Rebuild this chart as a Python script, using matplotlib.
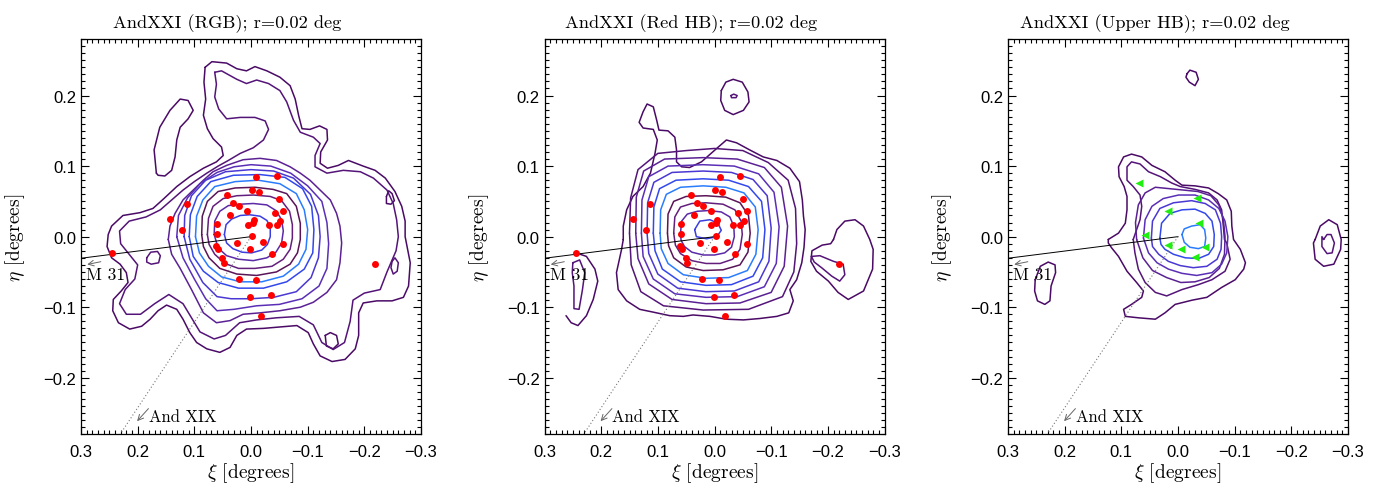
import numpy as np
import matplotlib.pyplot as plt
from matplotlib.ticker import MultipleLocator, FuncFormatter

plt.rcParams['mathtext.fontset'] = 'cm'
plt.rcParams['axes.unicode_minus'] = True

# ---------------------------------------------------------------
# data (xi, eta in degrees)
# ---------------------------------------------------------------

# spectroscopic members, same stars shown in the RGB and Red HB panels
mem_xi = [-0.009, -0.045, 0.042, -0.001, -0.014, -0.050, 0.113, 0.031, 0.021, 0.007,
          0.037, -0.042, -0.057, 0.060, -0.005, -0.003, 0.006, -0.032, -0.045, -0.052,
          0.121, 0.060, -0.002, 0.025, -0.022, 0.061, 0.058, -0.057, 0.001, -0.037,
          0.051, 0.048, 0.022, -0.008, 0.001, -0.035, -0.018, 0.143, 0.245, -0.219]
mem_eta = [0.084, 0.086, 0.059, 0.066, 0.063, 0.054, 0.046, 0.047, 0.044, 0.036,
           0.030, 0.033, 0.036, 0.018, 0.023, 0.019, 0.016, 0.016, 0.017, 0.022,
           0.010, 0.004, 0.001, -0.009, -0.008, -0.013, -0.018, -0.011, -0.017, -0.024,
           -0.030, -0.037, -0.060, -0.061, -0.085, -0.082, -0.113, 0.025, -0.023, -0.039]

# upper HB stars
uhb_xi = [0.068, -0.033, 0.018, -0.037, 0.058, 0.017, -0.006, -0.047, -0.030]
uhb_eta = [0.076, 0.055, 0.037, 0.019, 0.003, -0.012, -0.018, -0.015, -0.029]

# contour colours, outermost level first
level_colors = ['#4a0a66', '#541478', '#5b2194', '#5a2fb6', '#4a38d2', '#3348ec',
                '#2a7cff', '#5a1458', '#641f7c', '#5b2aa6', '#3a3ee0']

# ---- RGB panel contours ----
rgb_l1_main = [(0.081, 0.240), (0.069, 0.248), (0.043, 0.246), (0.025, 0.238), (0.008, 0.235),
               (-0.007, 0.241), (-0.028, 0.235), (-0.051, 0.226), (-0.069, 0.214), (-0.078, 0.195),
               (-0.084, 0.172), (-0.090, 0.153), (-0.104, 0.152), (-0.121, 0.157), (-0.134, 0.152),
               (-0.135, 0.137), (-0.123, 0.120), (-0.122, 0.104), (-0.135, 0.097), (-0.154, 0.101),
               (-0.172, 0.108), (-0.198, 0.100), (-0.219, 0.094), (-0.237, 0.083), (-0.254, 0.064),
               (-0.266, 0.043), (-0.272, 0.022), (-0.272, 0.000), (-0.281, -0.037), (-0.278, -0.070),
               (-0.269, -0.086), (-0.249, -0.091), (-0.222, -0.091), (-0.198, -0.094), (-0.190, -0.108),
               (-0.190, -0.140), (-0.184, -0.159), (-0.166, -0.174), (-0.143, -0.177), (-0.122, -0.169),
               (-0.110, -0.152), (-0.101, -0.136), (-0.081, -0.126), (-0.051, -0.128), (-0.022, -0.130),
               (0.008, -0.131), (0.025, -0.140), (0.037, -0.157), (0.055, -0.164), (0.078, -0.159),
               (0.096, -0.150), (0.108, -0.136), (0.120, -0.117), (0.131, -0.103), (0.149, -0.097),
               (0.164, -0.105), (0.178, -0.117), (0.193, -0.127), (0.214, -0.131), (0.234, -0.122),
               (0.244, -0.105), (0.243, -0.089), (0.229, -0.077), (0.217, -0.065), (0.220, -0.051),
               (0.231, -0.039), (0.246, -0.030), (0.254, -0.014), (0.252, 0.003), (0.246, 0.015),
               (0.226, 0.030), (0.196, 0.034), (0.173, 0.040), (0.155, 0.053), (0.131, 0.071),
               (0.108, 0.085), (0.084, 0.097), (0.061, 0.106), (0.049, 0.115), (0.052, 0.127),
               (0.067, 0.139), (0.077, 0.153), (0.084, 0.172), (0.080, 0.195), (0.083, 0.219)]
rgb_l1_blob = [(0.167, 0.090), (0.171, 0.123), (0.161, 0.155), (0.143, 0.179), (0.125, 0.195),
               (0.111, 0.193), (0.102, 0.179), (0.111, 0.167), (0.125, 0.155), (0.131, 0.137),
               (0.134, 0.113), (0.140, 0.094), (0.152, 0.086), (0.164, 0.087)]
rgb_l1_right = [(-0.239, 0.057), (-0.243, 0.065), (-0.249, 0.061), (-0.253, 0.051),
                (-0.247, 0.046), (-0.239, 0.047)]
rgb_l1_low = [(-0.131, -0.140), (-0.140, -0.136), (-0.151, -0.140), (-0.154, -0.152),
              (-0.145, -0.159), (-0.133, -0.155)]
rgb_l2_right = [(-0.249, -0.035), (-0.254, -0.030), (-0.260, -0.037), (-0.258, -0.049),
                (-0.251, -0.053), (-0.247, -0.044)]
rgb_l2_left = [(0.184, -0.030), (0.177, -0.022), (0.165, -0.021), (0.160, -0.027),
               (0.163, -0.037), (0.176, -0.039), (0.184, -0.036)]
rgb_l2 = [(0.064, 0.233), (0.052, 0.235), (0.025, 0.223), (0.008, 0.217), (-0.010, 0.222),
          (-0.031, 0.217), (-0.051, 0.207), (-0.063, 0.191), (-0.075, 0.165), (-0.087, 0.148),
          (-0.110, 0.141), (-0.122, 0.132), (-0.113, 0.115), (-0.113, 0.099), (-0.134, 0.090),
          (-0.163, 0.094), (-0.193, 0.092), (-0.216, 0.083), (-0.240, 0.066), (-0.251, 0.047),
          (-0.257, 0.024), (-0.260, 0.000), (-0.256, -0.020), (-0.240, -0.050), (-0.228, -0.075),
          (-0.200, -0.080), (-0.180, -0.090), (-0.175, -0.120), (-0.165, -0.150), (-0.145, -0.160),
          (-0.125, -0.150), (-0.110, -0.125), (-0.085, -0.113), (-0.045, -0.115), (-0.010, -0.118),
          (0.020, -0.122), (0.045, -0.140), (0.065, -0.145), (0.090, -0.135), (0.105, -0.115),
          (0.120, -0.095), (0.145, -0.082), (0.170, -0.095), (0.195, -0.110), (0.220, -0.110),
          (0.232, -0.095), (0.222, -0.075), (0.205, -0.060), (0.200, -0.040), (0.215, -0.025),
          (0.230, -0.010), (0.232, 0.008), (0.215, 0.022), (0.185, 0.028), (0.160, 0.038),
          (0.140, 0.052), (0.120, 0.066), (0.100, 0.078), (0.078, 0.090), (0.058, 0.100),
          (0.040, 0.108), (0.019, 0.118), (-0.004, 0.126), (-0.022, 0.137), (-0.031, 0.152),
          (-0.025, 0.164), (-0.007, 0.169), (0.019, 0.169), (0.043, 0.167), (0.057, 0.181),
          (0.064, 0.198), (0.061, 0.216)]
rgb_l3 = [(0.146, -0.004), (0.143, 0.015), (0.134, 0.033), (0.120, 0.052), (0.102, 0.066),
          (0.084, 0.080), (0.067, 0.092), (0.043, 0.101), (0.014, 0.109), (-0.016, 0.111),
          (-0.045, 0.108), (-0.069, 0.099), (-0.087, 0.090), (-0.104, 0.080), (-0.122, 0.066),
          (-0.140, 0.052), (-0.151, 0.033), (-0.157, 0.015), (-0.160, -0.009), (-0.157, -0.037),
          (-0.151, -0.061), (-0.134, -0.079), (-0.110, -0.093), (-0.087, -0.100), (-0.051, -0.105),
          (-0.016, -0.108), (0.014, -0.110), (0.037, -0.119), (0.061, -0.122), (0.084, -0.108),
          (0.105, -0.075), (0.125, -0.045), (0.140, -0.025)]
rgb_l4 = [(0.131, 0.000), (0.128, 0.030), (0.112, 0.055), (0.090, 0.075), (0.060, 0.091),
          (0.030, 0.099), (0.000, 0.102), (-0.035, 0.100), (-0.070, 0.090), (-0.100, 0.072),
          (-0.125, 0.050), (-0.134, 0.020), (-0.137, -0.010), (-0.134, -0.045), (-0.120, -0.070),
          (-0.090, -0.088), (-0.050, -0.096), (-0.010, -0.098), (0.030, -0.103), (0.060, -0.105),
          (0.080, -0.088), (0.100, -0.060), (0.120, -0.030)]
rgb_l5 = [(0.118, 0.000), (0.117, 0.030), (0.105, 0.058), (0.080, 0.080), (0.045, 0.092),
          (0.000, 0.095), (-0.040, 0.093), (-0.075, 0.083), (-0.105, 0.060), (-0.119, 0.030),
          (-0.122, 0.000), (-0.119, -0.030), (-0.106, -0.058), (-0.080, -0.078), (-0.040, -0.086),
          (0.000, -0.088), (0.035, -0.088), (0.060, -0.085), (0.085, -0.065), (0.108, -0.032)]
rgb_l6 = [(0.109, 0.000), (0.107, 0.031), (0.095, 0.057), (0.071, 0.078), (0.031, 0.087),
          (-0.016, 0.088), (-0.060, 0.084), (-0.091, 0.068), (-0.107, 0.043), (-0.111, 0.010),
          (-0.109, -0.023), (-0.094, -0.046), (-0.063, -0.064), (-0.022, -0.073), (0.022, -0.073),
          (0.058, -0.065), (0.084, -0.049), (0.102, -0.028)]
rgb_l7 = [(0.098, 0.000), (0.096, 0.029), (0.085, 0.052), (0.064, 0.071), (0.028, 0.078),
          (-0.013, 0.080), (-0.051, 0.075), (-0.080, 0.061), (-0.094, 0.038), (-0.100, 0.010),
          (-0.097, -0.018), (-0.084, -0.039), (-0.057, -0.056), (-0.019, -0.064), (0.019, -0.064),
          (0.052, -0.057), (0.075, -0.042), (0.091, -0.023)]
rgb_l8 = [(0.087, 0.003), (0.086, 0.029), (0.077, 0.050), (0.058, 0.064), (0.028, 0.069),
          (-0.007, 0.070), (-0.039, 0.067), (-0.063, 0.061), (-0.080, 0.043), (-0.087, 0.019),
          (-0.087, -0.004), (-0.082, -0.023), (-0.069, -0.039), (-0.045, -0.050), (-0.010, -0.055),
          (0.025, -0.053), (0.055, -0.045), (0.074, -0.030), (0.084, -0.014)]
rgb_l9 = [(0.077, 0.003), (0.075, 0.026), (0.067, 0.043), (0.049, 0.054), (0.025, 0.058),
          (-0.004, 0.059), (-0.034, 0.057), (-0.054, 0.051), (-0.068, 0.036), (-0.073, 0.017),
          (-0.073, -0.002), (-0.069, -0.018), (-0.057, -0.032), (-0.037, -0.042), (-0.007, -0.045),
          (0.022, -0.045), (0.046, -0.038), (0.064, -0.025), (0.074, -0.011)]
rgb_l10 = [(0.065, 0.003), (0.064, 0.022), (0.055, 0.036), (0.040, 0.044), (0.019, 0.046),
           (-0.004, 0.047), (-0.028, 0.045), (-0.044, 0.037), (-0.054, 0.024), (-0.057, 0.008),
           (-0.054, -0.009), (-0.044, -0.022), (-0.028, -0.030), (-0.004, -0.034), (0.022, -0.032),
           (0.043, -0.027), (0.058, -0.016)]
rgb_l11 = [(0.047, 0.003), (0.044, 0.017), (0.034, 0.025), (0.019, 0.030), (0.002, 0.031),
           (-0.016, 0.029), (-0.028, 0.023), (-0.034, 0.014), (-0.034, 0.000), (-0.029, -0.011),
           (-0.019, -0.019), (-0.001, -0.023), (0.016, -0.022), (0.032, -0.017), (0.043, -0.009)]

# ---- Red HB panel contours ----
rhb_l1_main = [(0.161, -0.004), (0.161, 0.015), (0.155, 0.038), (0.144, 0.057), (0.126, 0.071),
               (0.113, 0.090), (0.105, 0.118), (0.101, 0.137), (0.108, 0.152), (0.126, 0.154),
               (0.133, 0.162), (0.126, 0.177), (0.119, 0.188), (0.108, 0.184), (0.102, 0.165),
               (0.098, 0.151), (0.082, 0.150), (0.070, 0.141), (0.067, 0.123), (0.067, 0.106),
               (0.058, 0.099), (0.044, 0.098), (0.023, 0.106), (-0.001, 0.123), (-0.021, 0.137),
               (-0.039, 0.133), (-0.062, 0.123), (-0.086, 0.113), (-0.110, 0.108), (-0.133, 0.097),
               (-0.150, 0.078), (-0.155, 0.052), (-0.157, 0.029), (-0.160, 0.010), (-0.158, -0.015),
               (-0.154, -0.037), (-0.145, -0.061), (-0.133, -0.075), (-0.139, -0.091), (-0.131, -0.108),
               (-0.110, -0.113), (-0.080, -0.116), (-0.051, -0.118), (-0.021, -0.117), (0.008, -0.113),
               (0.038, -0.111), (0.055, -0.113), (0.079, -0.112), (0.108, -0.107), (0.132, -0.103),
               (0.155, -0.091), (0.170, -0.075), (0.173, -0.051), (0.164, -0.018)]
rhb_l1_top = [(-0.012, 0.207), (-0.020, 0.219), (-0.033, 0.223), (-0.049, 0.219), (-0.059, 0.205),
              (-0.061, 0.191), (-0.051, 0.179), (-0.033, 0.173), (-0.018, 0.179), (-0.011, 0.193)]
rhb_l2_top = [(-0.029, 0.200), (-0.034, 0.202), (-0.040, 0.200), (-0.038, 0.197), (-0.030, 0.197)]
rhb_l1_right = [(-0.210, -0.004), (-0.216, 0.010), (-0.230, 0.022), (-0.248, 0.024), (-0.263, 0.015),
                (-0.274, -0.004), (-0.280, -0.018), (-0.279, -0.046), (-0.263, -0.077), (-0.236, -0.089),
                (-0.218, -0.079), (-0.201, -0.063), (-0.180, -0.049), (-0.170, -0.035), (-0.172, -0.020),
                (-0.190, -0.012), (-0.205, -0.010)]
rhb_l2_right = [(-0.171, -0.028), (-0.186, -0.027), (-0.210, -0.035), (-0.227, -0.039), (-0.230, -0.054),
                (-0.221, -0.063), (-0.207, -0.056), (-0.189, -0.044), (-0.176, -0.036)]
rhb_l1_left = [(0.262, -0.112), (0.253, -0.122), (0.241, -0.126), (0.226, -0.112), (0.214, -0.089),
               (0.206, -0.063), (0.211, -0.046), (0.226, -0.028), (0.244, -0.023)]
rhb_l2_left = [(0.250, -0.037), (0.238, -0.033), (0.229, -0.051), (0.233, -0.075), (0.239, -0.103),
               (0.248, -0.102), (0.248, -0.070), (0.251, -0.051)]
rhb_l2 = [(0.150, 0.005), (0.148, 0.055), (0.135, 0.095), (0.100, 0.118), (0.050, 0.122),
          (0.000, 0.125), (-0.050, 0.122), (-0.095, 0.105), (-0.130, 0.080), (-0.143, 0.040),
          (-0.145, -0.010), (-0.140, -0.050), (-0.120, -0.085), (-0.060, -0.103), (0.020, -0.104),
          (0.090, -0.098), (0.130, -0.078), (0.147, -0.040)]
rhb_l3 = [(0.139, 0.005), (0.138, 0.056), (0.125, 0.093), (0.088, 0.110), (0.020, 0.112),
          (-0.040, 0.110), (-0.088, 0.098), (-0.118, 0.070), (-0.129, 0.015), (-0.123, -0.042),
          (-0.100, -0.079), (-0.045, -0.094), (0.015, -0.095), (0.075, -0.089), (0.116, -0.067),
          (0.135, -0.031)]
rhb_l4 = [(0.129, 0.005), (0.128, 0.052), (0.116, 0.085), (0.082, 0.100), (0.020, 0.102),
          (-0.035, 0.100), (-0.078, 0.089), (-0.105, 0.063), (-0.114, 0.014), (-0.109, -0.038),
          (-0.088, -0.071), (-0.040, -0.085), (0.015, -0.086), (0.070, -0.081), (0.108, -0.060),
          (0.126, -0.028)]
rhb_l5 = [(0.119, 0.005), (0.118, 0.048), (0.107, 0.077), (0.075, 0.091), (0.020, 0.093),
          (-0.030, 0.091), (-0.068, 0.081), (-0.093, 0.058), (-0.100, 0.012), (-0.096, -0.035),
          (-0.078, -0.064), (-0.035, -0.077), (0.015, -0.078), (0.065, -0.073), (0.100, -0.053),
          (0.116, -0.024)]
rhb_l6 = [(0.108, 0.005), (0.107, 0.042), (0.097, 0.068), (0.068, 0.080), (0.020, 0.082),
          (-0.025, 0.080), (-0.060, 0.071), (-0.083, 0.050), (-0.089, 0.010), (-0.085, -0.030),
          (-0.068, -0.056), (-0.030, -0.068), (0.015, -0.069), (0.060, -0.064), (0.092, -0.046),
          (0.105, -0.020)]
rhb_l7 = [(0.096, 0.005), (0.095, 0.038), (0.085, 0.060), (0.060, 0.070), (0.020, 0.072),
          (-0.020, 0.070), (-0.052, 0.062), (-0.072, 0.042), (-0.077, 0.010), (-0.073, -0.025),
          (-0.058, -0.048), (-0.025, -0.058), (0.015, -0.059), (0.055, -0.054), (0.082, -0.038),
          (0.094, -0.017)]
rhb_l8 = [(0.083, 0.005), (0.082, 0.032), (0.072, 0.050), (0.050, 0.057), (0.015, 0.058),
          (-0.020, 0.056), (-0.045, 0.048), (-0.060, 0.030), (-0.063, 0.005), (-0.059, -0.022),
          (-0.045, -0.040), (-0.015, -0.047), (0.020, -0.048), (0.050, -0.043), (0.072, -0.030),
          (0.081, -0.013)]
rhb_l9 = [(0.072, 0.005), (0.070, 0.028), (0.060, 0.042), (0.040, 0.047), (0.015, 0.048),
          (-0.015, 0.046), (-0.036, 0.038), (-0.047, 0.022), (-0.049, 0.003), (-0.045, -0.018),
          (-0.032, -0.032), (-0.010, -0.038), (0.015, -0.038), (0.040, -0.034), (0.060, -0.024),
          (0.069, -0.012)]
rhb_l10 = [(0.060, 0.005), (0.058, 0.022), (0.048, 0.032), (0.030, 0.036), (0.010, 0.037),
           (-0.012, 0.035), (-0.027, 0.028), (-0.034, 0.015), (-0.035, 0.000), (-0.030, -0.015),
           (-0.018, -0.023), (0.000, -0.026), (0.020, -0.026), (0.040, -0.022), (0.053, -0.014),
           (0.059, -0.005)]
rhb_l11 = [(0.035, 0.010), (0.026, 0.022), (0.008, 0.024), (-0.006, 0.019), (-0.012, 0.009),
           (-0.004, 0.000), (0.014, -0.003), (0.032, 0.000)]

# ---- Upper HB panel contours ----
uhb_l1_main = [(0.123, -0.004), (0.105, 0.005), (0.093, 0.019), (0.090, 0.038), (0.090, 0.057),
               (0.095, 0.071), (0.104, 0.085), (0.105, 0.099), (0.096, 0.113), (0.082, 0.117),
               (0.064, 0.113), (0.046, 0.101), (0.023, 0.092), (0.005, 0.080), (-0.007, 0.073),
               (-0.030, 0.072), (-0.054, 0.069), (-0.071, 0.061), (-0.086, 0.052), (-0.094, 0.036),
               (-0.095, 0.015), (-0.098, -0.004), (-0.110, -0.018), (-0.119, -0.037), (-0.116, -0.046),
               (-0.101, -0.061), (-0.077, -0.072), (-0.051, -0.086), (-0.025, -0.090), (0.005, -0.096),
               (0.023, -0.108), (0.040, -0.117), (0.070, -0.115), (0.093, -0.113), (0.096, -0.103),
               (0.082, -0.096), (0.064, -0.086), (0.061, -0.077), (0.073, -0.065), (0.090, -0.049),
               (0.105, -0.028), (0.117, -0.016), (0.123, -0.009)]
uhb_l1_top = [(-0.016, 0.231), (-0.021, 0.236), (-0.032, 0.233), (-0.036, 0.223), (-0.030, 0.214),
              (-0.020, 0.219), (-0.014, 0.226)]
uhb_l1_right = [(-0.242, -0.004), (-0.251, 0.015), (-0.266, 0.024), (-0.281, 0.017), (-0.288, -0.004),
                (-0.287, -0.018), (-0.275, -0.039), (-0.257, -0.042), (-0.242, -0.032), (-0.239, -0.009)]
uhb_l2_right = [(-0.257, -0.004), (-0.263, 0.003), (-0.270, 0.003), (-0.276, -0.009), (-0.272, -0.023),
                (-0.263, -0.024), (-0.254, -0.014), (-0.254, 0.000)]
uhb_l1_left = [(0.252, -0.061), (0.243, -0.042), (0.229, -0.036), (0.217, -0.040), (0.216, -0.051),
               (0.224, -0.070), (0.226, -0.091), (0.235, -0.096), (0.248, -0.091), (0.253, -0.077)]
uhb_l2 = [(0.079, -0.004), (0.073, 0.010), (0.067, 0.024), (0.064, 0.043), (0.067, 0.059),
          (0.079, 0.071), (0.090, 0.080), (0.090, 0.099), (0.082, 0.106), (0.067, 0.103),
          (0.052, 0.092), (0.031, 0.085), (0.011, 0.076), (-0.004, 0.071), (-0.030, 0.067),
          (-0.054, 0.062), (-0.069, 0.052), (-0.077, 0.038), (-0.080, 0.015), (-0.082, -0.004),
          (-0.086, -0.009), (-0.092, -0.032), (-0.083, -0.049), (-0.060, -0.061), (-0.036, -0.068),
          (-0.007, -0.075), (0.020, -0.084), (0.040, -0.079), (0.058, -0.065), (0.070, -0.046),
          (0.076, -0.023)]
uhb_l3 = [(0.073, -0.004), (0.075, 0.020), (0.070, 0.045), (0.058, 0.062), (0.040, 0.070),
          (0.015, 0.068), (-0.010, 0.066), (-0.035, 0.064), (-0.058, 0.058), (-0.072, 0.045),
          (-0.080, 0.025), (-0.083, 0.000), (-0.082, -0.025), (-0.073, -0.045), (-0.055, -0.058),
          (-0.030, -0.064), (-0.005, -0.065), (0.020, -0.058), (0.045, -0.048), (0.062, -0.030)]
uhb_l4 = [(0.061, -0.002), (0.058, 0.024), (0.046, 0.043), (0.026, 0.054), (-0.001, 0.059),
          (-0.030, 0.059), (-0.054, 0.052), (-0.072, 0.040), (-0.083, 0.022), (-0.088, 0.000),
          (-0.086, -0.023), (-0.077, -0.039), (-0.060, -0.051), (-0.033, -0.055), (-0.007, -0.052),
          (0.017, -0.046), (0.037, -0.037), (0.052, -0.023)]
uhb_l5 = [(0.047, -0.002), (0.045, 0.022), (0.032, 0.040), (0.008, 0.048), (-0.024, 0.051),
          (-0.048, 0.047), (-0.066, 0.038), (-0.075, 0.019), (-0.077, 0.000), (-0.076, -0.018),
          (-0.069, -0.032), (-0.051, -0.042), (-0.027, -0.044), (-0.004, -0.041), (0.017, -0.035),
          (0.034, -0.025), (0.045, -0.014)]
uhb_l6 = [(0.032, -0.002), (0.029, 0.019), (0.014, 0.033), (-0.007, 0.038), (-0.030, 0.039),
          (-0.048, 0.033), (-0.060, 0.022), (-0.064, 0.003), (-0.063, -0.014), (-0.054, -0.025),
          (-0.036, -0.031), (-0.013, -0.030), (0.008, -0.025), (0.023, -0.018), (0.030, -0.011)]
uhb_l7 = [(-0.007, 0.003), (-0.011, 0.011), (-0.024, 0.015), (-0.039, 0.017), (-0.047, 0.010),
          (-0.049, -0.002), (-0.047, -0.014), (-0.036, -0.017), (-0.021, -0.015), (-0.011, -0.008)]

rgb_contours = [(1, rgb_l1_main, True), (1, rgb_l1_blob, True), (1, rgb_l1_right, True),
                (1, rgb_l1_low, True), (2, rgb_l2, True), (2, rgb_l2_right, True),
                (2, rgb_l2_left, True), (3, rgb_l3, True), (4, rgb_l4, True), (5, rgb_l5, True),
                (6, rgb_l6, True), (7, rgb_l7, True), (8, rgb_l8, True), (9, rgb_l9, True),
                (10, rgb_l10, True), (11, rgb_l11, True)]
rhb_contours = [(1, rhb_l1_main, True), (1, rhb_l1_top, True), (2, rhb_l2_top, True),
                (1, rhb_l1_right, True), (2, rhb_l2_right, True), (1, rhb_l1_left, False),
                (2, rhb_l2_left, True), (2, rhb_l2, True), (3, rhb_l3, True), (4, rhb_l4, True),
                (5, rhb_l5, True), (6, rhb_l6, True), (7, rhb_l7, True), (8, rhb_l8, True),
                (9, rhb_l9, True), (10, rhb_l10, True), (11, rhb_l11, True)]
uhb_contours = [(1, uhb_l1_main, True), (1, uhb_l1_top, True), (1, uhb_l1_right, True),
                (2, uhb_l2_right, True), (1, uhb_l1_left, True), (2, uhb_l2, True),
                (3, uhb_l3, True), (4, uhb_l4, True), (5, uhb_l5, True), (6, uhb_l6, True),
                (7, uhb_l7, True)]

titles = ['AndXXI (RGB); r=0.02 deg', 'AndXXI (Red HB); r=0.02 deg',
          'AndXXI (Upper HB); r=0.02 deg']

# direction markers
m31_line = ([0.0, 0.35], [0.0, -0.0357])
and19_line = ([0.0, 0.235], [0.0, -0.285])


def draw_contours(ax, contours):
    for level, pts, closed in contours:
        arr = np.array(pts)
        if closed:
            arr = np.vstack([arr, arr[:1]])
        ax.plot(arr[:, 0], arr[:, 1], color=level_colors[level - 1], lw=1.1,
                solid_joinstyle='round', solid_capstyle='round', zorder=2)


def tick_fmt(v, pos):
    s = '%.1f' % v
    if s == '-0.0':
        s = '0.0'
    return s.replace('-', '\u2212')


fig = plt.figure(figsize=(13.82, 4.89), dpi=100)
lefts = [81 / 1382, 544.5 / 1382, 1008 / 1382]
panel_contours = [rgb_contours, rhb_contours, uhb_contours]

for i in range(3):
    ax = fig.add_axes([lefts[i], 0.110, 340 / 1382, 0.808])
    draw_contours(ax, panel_contours[i])

    if i < 2:
        ax.plot(mem_xi, mem_eta, 'o', color='#ff0000', ms=5, mec='none', zorder=4)
    else:
        ax.plot(uhb_xi, uhb_eta, '<', color='#22ee11', ms=5.5, mec='none', zorder=4)

    # direction to M31 and And XIX
    ax.plot(m31_line[0], m31_line[1], color='black', lw=0.7, zorder=3)
    ax.plot(and19_line[0], and19_line[1], color='#777777', lw=0.8, ls=(0, (1, 2)), zorder=3)
    ax.annotate('', xy=(0.289, -0.0394), xytext=(0.265, -0.0355),
                arrowprops=dict(arrowstyle='->', color='#666666', lw=0.7, shrinkA=0, shrinkB=0))
    ax.annotate('', xy=(0.201, -0.2615), xytext=(0.181, -0.2437),
                arrowprops=dict(arrowstyle='->', color='#666666', lw=0.7, shrinkA=0, shrinkB=0))
    ax.text(0.291, -0.054, 'M 31', family='cmr10', fontsize=12.5, va='center', ha='left', zorder=5)
    ax.text(0.180, -0.254, 'And XIX', family='cmr10', fontsize=12, va='center', ha='left', zorder=5)

    ax.set_xlim(0.3, -0.3)
    ax.set_ylim(-0.28, 0.28)
    ax.xaxis.set_major_locator(MultipleLocator(0.1))
    ax.xaxis.set_minor_locator(MultipleLocator(0.01))
    ax.yaxis.set_major_locator(MultipleLocator(0.1))
    ax.yaxis.set_minor_locator(MultipleLocator(0.01))
    ax.xaxis.set_major_formatter(FuncFormatter(tick_fmt))
    ax.yaxis.set_major_formatter(FuncFormatter(tick_fmt))
    ax.tick_params(which='both', direction='in', top=True, right=True, width=0.8)
    ax.tick_params(which='major', length=6, labelsize=12)
    ax.tick_params(axis='x', which='major', pad=7)
    ax.tick_params(axis='y', which='major', pad=3.5)
    ax.tick_params(which='minor', length=3)
    for lab in ax.get_xticklabels() + ax.get_yticklabels():
        lab.set_family('Liberation Sans')
    for sp in ax.spines.values():
        sp.set_linewidth(0.9)

    ax.set_title(titles[i], family='cmr10', fontsize=13.2, pad=8.5, x=0.431)
    ax.set_xlabel(r'$\xi$ [degrees]', family='cmr10', fontsize=14, labelpad=1)
    ax.set_ylabel(r'$\eta$ [degrees]', family='cmr10', fontsize=14, labelpad=11.5)

fig.savefig('out.png', dpi=100)
